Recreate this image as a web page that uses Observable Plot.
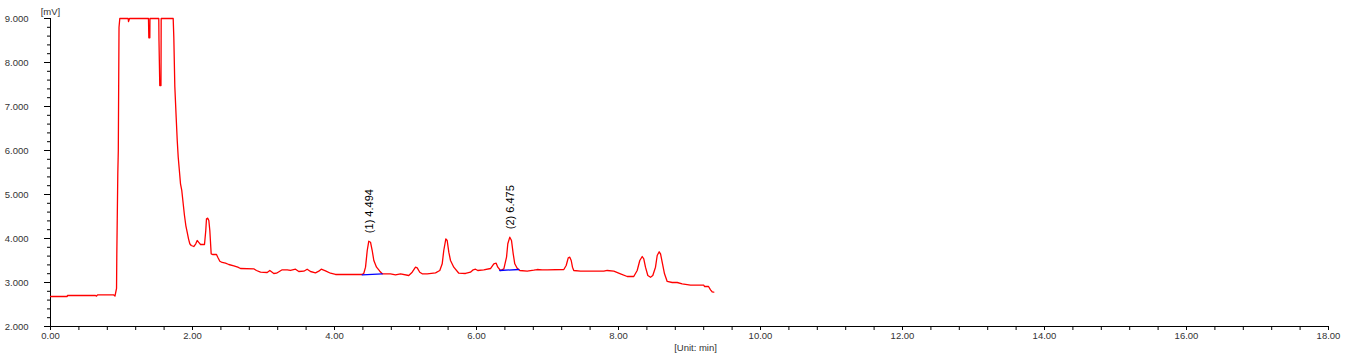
<!DOCTYPE html>
<html>
<head>
<meta charset="utf-8">
<script src="https://cdn.jsdelivr.net/npm/d3@7"></script>
<script src="https://cdn.jsdelivr.net/npm/@observablehq/plot@0.6"></script>
<style>
  html, body { margin: 0; padding: 0; background: #fff; }
  #chart { width: 1346px; height: 361px; }
</style>
</head>
<body>
<div id="chart"></div>
<script>
// Chromatogram trace (time in min, signal in mV)
const times = [0,0.235,0.239,0.634,0.648,0.662,0.887,0.908,0.930,0.934,0.948,0.955,0.965,0.976,
  1.094,1.099,1.113,1.380,1.385,1.399,1.401,1.525,1.528,1.539,1.556,1.559,1.728,1.737,1.751,1.770,
  1.785,1.799,1.813,1.831,1.849,1.869,1.887,1.906,1.925,1.944,1.962,1.982,2.018,2.046,2.066,2.085,
  2.113,2.169,2.187,2.197,2.215,2.230,2.244,2.263,2.282,2.338,2.356,2.385,2.418,2.465,2.511,2.582,
  2.638,2.676,2.863,2.901,2.958,3.052,3.089,3.108,3.145,3.183,3.263,3.334,3.380,3.451,3.497,3.568,
  3.615,3.662,3.732,3.779,3.813,3.873,3.944,4.014,4.390,4.413,4.437,4.461,4.483,4.507,4.531,4.554,
  4.592,4.638,4.672,4.789,4.859,4.930,5.046,5.094,5.141,5.165,5.201,5.235,5.306,5.423,5.483,5.517,
  5.539,5.568,5.587,5.610,5.634,5.680,5.751,5.845,5.915,5.954,5.986,6.018,6.103,6.197,6.244,6.277,
  6.300,6.338,6.385,6.423,6.441,6.469,6.493,6.517,6.539,6.573,6.610,6.714,6.807,6.855,6.925,6.996,
  7.230,7.263,7.292,7.314,7.334,7.352,7.370,7.465,7.793,7.841,7.934,8.028,8.123,8.215,8.263,8.300,
  8.334,8.356,8.380,8.413,8.451,8.483,8.521,8.545,8.573,8.592,8.620,8.648,8.686,8.756,8.827,8.897,
  9.014,9.202,9.211,9.268,9.296,9.319,9.342];
const signal = [2.682,2.682,2.705,2.705,2.689,2.720,2.720,2.693,2.864,3.636,5.484,6.0,8.80,9.0,
  9.0,8.93,9.0,9.0,8.56,8.56,9.0,9.0,8.5,7.477,7.477,9.0,9.0,8.56,7.455,6.757,
  6.227,5.848,5.584,5.243,5.091,4.789,4.523,4.295,4.143,3.993,3.880,3.841,3.818,3.880,3.955,3.916,
  3.864,3.864,4.182,4.448,4.461,4.409,4.182,3.652,3.636,3.636,3.575,3.484,3.455,3.439,3.409,3.380,
  3.348,3.318,3.311,3.273,3.234,3.227,3.273,3.250,3.205,3.211,3.289,3.289,3.273,3.302,3.250,3.257,
  3.302,3.250,3.220,3.257,3.302,3.266,3.211,3.182,3.182,3.211,3.348,3.727,3.939,3.916,3.727,3.5,
  3.348,3.257,3.198,3.198,3.175,3.198,3.159,3.234,3.348,3.334,3.234,3.198,3.198,3.220,3.273,3.425,
  3.727,3.993,3.955,3.689,3.5,3.348,3.211,3.205,3.234,3.289,3.302,3.273,3.289,3.318,3.425,3.439,
  3.348,3.273,3.311,3.575,3.880,4.030,3.955,3.652,3.425,3.325,3.273,3.257,3.280,3.295,3.289,3.289,
  3.295,3.386,3.561,3.575,3.5,3.348,3.273,3.257,3.257,3.273,3.257,3.198,3.136,3.136,3.273,3.5,
  3.591,3.539,3.348,3.159,3.120,3.159,3.348,3.614,3.698,3.652,3.425,3.198,3.023,3.0,3.0,2.970,
  2.939,2.939,2.909,2.909,2.834,2.789,2.780];

// Integration baselines (blue)
const base1T = [4.390, 4.672];
const base1V = [3.175, 3.198];
const base2T = [6.328, 6.596];
const base2V = [3.273, 3.295];

// Peak annotations
const peakTimes = [4.494, 6.475];
const peakHeights = [3.94, 4.03];
const peakLabels = ["(1) 4.494", "(2) 6.475"];

// Axis ticks
const xLabelTicks = [0, 2, 4, 6, 8, 10, 12, 14, 16, 18];
const yLabelTicks = [2, 3, 4, 5, 6, 7, 8, 9];
const xMinorTicks = d3.range(0, 18.0001, 0.4);
const yMinorTicks = d3.range(2, 9.0001, 0.2);

const trace = times.map((t, i) => ({t, v: signal[i]}));
const b1 = base1T.map((t, i) => ({t, v: base1V[i]}));
const b2 = base2T.map((t, i) => ({t, v: base2V[i]}));
const peaks = peakTimes.map((t, i) => ({t, v: peakHeights[i], label: peakLabels[i]}));

const tickColor = "#333";

const chart = Plot.plot({
  width: 1346,
  height: 361,
  marginLeft: 50,
  marginRight: 18,
  marginTop: 18,
  marginBottom: 35,
  x: {domain: [0, 18], axis: null},
  y: {domain: [2, 9], axis: null},
  style: {fontFamily: "'Liberation Sans', Arial, sans-serif", fontSize: "9.5px", background: "#fff"},
  marks: [
    Plot.axisX(xMinorTicks, {tickSize: 4, text: null, label: null, stroke: "#000"}),
    Plot.axisX(xLabelTicks, {tickSize: 4, tickPadding: 2, tickFormat: d => d.toFixed(2), label: null, stroke: "#000", fill: tickColor}),
    Plot.axisY(yMinorTicks, {tickSize: 3, text: null, label: null, stroke: "#000"}),
    Plot.axisY(yLabelTicks, {tickSize: 6, tickPadding: 16, tickFormat: d => d.toFixed(3), label: null, stroke: "#000", fill: tickColor}),
    Plot.ruleX([0], {stroke: "#000"}),
    Plot.ruleY([2], {stroke: "#000"}),
    Plot.line(trace, {x: "t", y: "v", stroke: "#ff0000", strokeWidth: 1.3, curve: "linear"}),
    Plot.line(b1, {x: "t", y: "v", stroke: "#0000ff", strokeWidth: 1.3}),
    Plot.line(b2, {x: "t", y: "v", stroke: "#0000ff", strokeWidth: 1.3}),
    Plot.text(peaks, {x: "t", y: "v", text: "label", rotate: -90, textAnchor: "start", dx: 0, dy: -8, fontSize: 11, fill: "#000"}),
    Plot.text(["[mV]"], {frameAnchor: "top-left", dy: -10, textAnchor: "middle", fill: tickColor, fontSize: 9.5}),
    Plot.text(["[Unit: min]"], {frameAnchor: "bottom", dx: 6, dy: 24, textAnchor: "middle", fill: tickColor, fontSize: 9.5})
  ]
});
document.getElementById("chart").appendChild(chart);
</script>
</body>
</html>
